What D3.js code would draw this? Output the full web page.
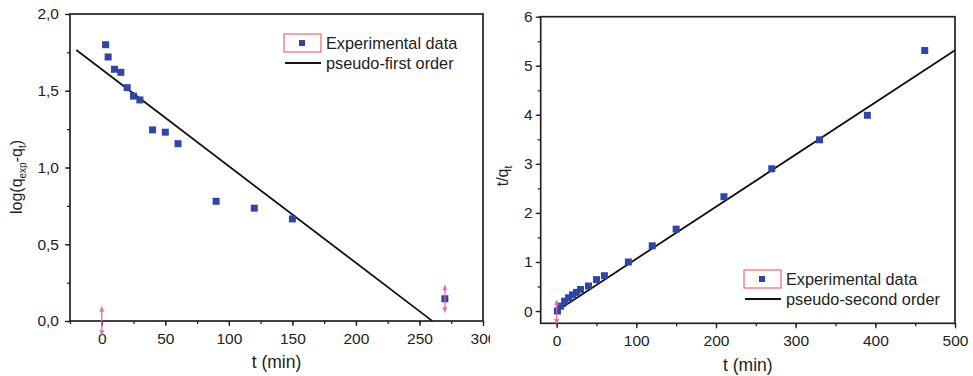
<!DOCTYPE html>
<html lang="en">
<head>
    <meta charset="UTF-8">
    <title>Kinetic models</title>
    <script src="https://d3js.org/d3.v7.min.js"></script>
    <style>
        body { margin: 0; background: #fff; }
        svg, svg text { font-family: "Liberation Sans", Arial, sans-serif; }
        .tick text { font-size: 15.5px; fill: #222; font-family: "Liberation Sans", Arial, sans-serif; }
        .domain { display: none; }
        .tick line { stroke: #222; stroke-width: 1.3; }
        .frame { fill: none; stroke: #222; stroke-width: 1.7; }
        .lbl { font-size: 17.5px; fill: #222; }
        .ylbl { font-size: 16px; fill: #222; }
        .leg { font-size: 16.3px; fill: #222; }
    </style>
</head>
<body>
<svg id="chart" width="973" height="376"></svg>
<script>
    // pseudo-first order panel
    const t1 = [3, 5, 10, 15, 20, 25, 30, 40, 50, 60, 90, 120, 150, 270];
    const logQ = [1.80, 1.72, 1.64, 1.62, 1.52, 1.465, 1.44, 1.245, 1.23, 1.155, 0.78, 0.735, 0.665, 0.145];
    const fit1 = { intercept: 1.639, slope: -0.0063, from: -20, to: 260 };
    const err1T = [0, 270];
    const err1Y = [0.0, 0.145];
    const err1H = [0.1, 0.095];
    const x1Ticks = [0, 50, 100, 150, 200, 250, 300];
    const y1Ticks = [0, 0.5, 1.0, 1.5, 2.0];

    // pseudo-second order panel
    const t2 = [1, 5, 10, 15, 20, 25, 30, 40, 50, 60, 90, 120, 150, 210, 270, 330, 390, 462];
    const tq = [0.0, 0.10, 0.20, 0.27, 0.33, 0.38, 0.44, 0.51, 0.64, 0.72, 1.0, 1.33, 1.67, 2.33, 2.90, 3.49, 3.99, 5.31];
    const fit2 = { intercept: 0.0, slope: 0.01063, from: 1, to: 500 };
    const err2T = [0];
    const err2Y = [-0.02];
    const err2H = [0.26];
    const x2Ticks = [0, 100, 200, 300, 400, 500];
    const y2Ticks = [0, 1, 2, 3, 4, 5, 6];

    const svg = d3.select("#chart");
    const comma = d3.formatLocale({ decimal: ",", thousands: ".", grouping: [3], currency: ["", ""] }).format(".1f");
    const blue = "#2d46a8";
    const pink = "#e063b4";

    svg.append("clipPath").attr("id", "clipL")
       .append("rect").attr("x", 0).attr("y", 0).attr("width", 490).attr("height", 376);

    function panel(opt) {
        const g = svg.append("g");
        if (opt.clip) g.attr("clip-path", "url(#clipL)");
        const x = d3.scaleLinear().domain(opt.xd).range(opt.xr);
        const y = d3.scaleLinear().domain(opt.yd).range(opt.yr);

        // minor ticks
        g.append("g").attr("transform", `translate(0,${opt.yr[0]})`)
         .call(d3.axisBottom(x).tickValues(opt.xMinor).tickSize(3).tickFormat(""));
        g.append("g").attr("transform", `translate(${opt.xr[0]},0)`)
         .call(d3.axisLeft(y).tickValues(opt.yMinor).tickSize(3).tickFormat(""));
        // major ticks
        const xa = g.append("g").attr("transform", `translate(0,${opt.yr[0]})`)
         .call(d3.axisBottom(x).tickValues(opt.xTicks).tickSize(5).tickPadding(5).tickFormat(d3.format("d")));
        g.append("g").attr("transform", `translate(${opt.xr[0]},0)`)
         .call(d3.axisLeft(y).tickValues(opt.yTicks).tickSize(5).tickPadding(opt.yPad).tickFormat(opt.yFmt));
        xa.selectAll(".tick text").attr("dy", "0.85em");

        g.append("rect").attr("class", "frame")
         .attr("x", opt.xr[0]).attr("y", opt.yr[1])
         .attr("width", opt.xr[1] - opt.xr[0]).attr("height", opt.yr[0] - opt.yr[1]);

        // fitted line
        const f = opt.fit;
        const fitPts = [f.from, f.to].map(t => [t, f.intercept + f.slope * t]);
        g.append("path").datum(fitPts)
         .attr("fill", "none").attr("stroke", "#111").attr("stroke-width", 1.8)
         .attr("d", d3.line().x(d => x(d[0])).y(d => y(d[1])));

        // points
        g.selectAll(".pt").data(opt.t).enter().append("rect")
         .attr("x", (d) => x(d) - 3.5)
         .attr("y", (d, i) => y(opt.v[i]) - 3.5)
         .attr("width", 7).attr("height", 7)
         .attr("fill", blue);

        // pink double arrows
        opt.errT.forEach((t, i) => {
            const cx = x(t), top = y(opt.errY[i] + opt.errH[i]), bot = y(opt.errY[i] - opt.errH[i]);
            g.append("line").attr("x1", cx).attr("x2", cx).attr("y1", top + 3).attr("y2", bot - 3)
             .attr("stroke", pink).attr("stroke-width", 1.4).attr("opacity", 0.85);
            g.append("path").attr("d", `M${cx - 2.6},${top + 6}L${cx},${top}L${cx + 2.6},${top + 6}Z`)
             .attr("fill", pink).attr("opacity", 0.85);
            g.append("path").attr("d", `M${cx - 2.6},${bot - 6}L${cx},${bot}L${cx + 2.6},${bot - 6}Z`)
             .attr("fill", pink).attr("opacity", 0.85);
        });

        // legend
        const L = opt.leg;
        g.append("rect").attr("x", L.x).attr("y", L.y).attr("width", 37).attr("height", 18)
         .attr("fill", "none").attr("stroke", "#e86a6a").attr("stroke-width", 1.2);
        g.append("rect").attr("x", L.x + 15).attr("y", L.y + 6).attr("width", 6).attr("height", 6).attr("fill", blue);
        g.append("text").attr("class", "leg").attr("x", L.x + 42).attr("y", L.y + 14.5).text("Experimental data");
        g.append("line").attr("x1", L.x + 1).attr("x2", L.x + 37).attr("y1", L.y + 29).attr("y2", L.y + 29)
         .attr("stroke", "#111").attr("stroke-width", 1.8);
        g.append("text").attr("class", "leg").attr("x", L.x + 42).attr("y", L.y + 34.5).text(L.line);

        // x axis label
        g.append("text").attr("class", "lbl").attr("text-anchor", "middle")
         .attr("x", (opt.xr[0] + opt.xr[1]) / 2 + opt.xlOff).attr("y", opt.yr[0] + opt.xlDy).text("t (min)");
        return g;
    }

    const gL = panel({
        clip: true,
        xd: [-25, 300], xr: [70, 483], yd: [0, 2], yr: [321, 14],
        xTicks: x1Ticks, yTicks: y1Ticks,
        xMinor: d3.range(-25, 301, 25), yMinor: d3.range(0, 2.01, 0.25),
        yFmt: comma, yPad: 6,
        t: t1, v: logQ, fit: fit1,
        errT: err1T, errY: err1Y, errH: err1H,
        leg: { x: 284, y: 34, line: "pseudo-first order" },
        xlOff: 0, xlDy: 47
    });
    const yl1 = gL.append("text").attr("class", "ylbl").attr("text-anchor", "middle")
        .attr("transform", "translate(22,177) rotate(-90)");
    yl1.append("tspan").text("log(q");
    yl1.append("tspan").attr("font-size", 10).attr("dy", 4).text("exp");
    yl1.append("tspan").attr("dy", -4).text("-q");
    yl1.append("tspan").attr("font-size", 10).attr("dy", 4).text("t");
    yl1.append("tspan").attr("dy", -4).text(")");

    const gR = panel({
        clip: false,
        xd: [-20, 500], xr: [540.7, 955], yd: [-0.25, 6], yr: [323.3, 16.7],
        xTicks: x2Ticks, yTicks: y2Ticks,
        xMinor: d3.range(0, 501, 50), yMinor: d3.range(0, 6.01, 0.5),
        yFmt: d3.format("d"), yPad: 3,
        t: t2, v: tq, fit: fit2,
        errT: err2T, errY: err2Y, errH: err2H,
        leg: { x: 744, y: 270, line: "pseudo-second order" },
        xlOff: 0, xlDy: 48
    });
    const yl2 = gR.append("text").attr("class", "ylbl").attr("text-anchor", "middle")
        .attr("transform", "translate(508,176) rotate(-90)");
    yl2.append("tspan").text("t/q");
    yl2.append("tspan").attr("font-size", 10).attr("dy", 4).text("t");
</script>
</body>
</html>
